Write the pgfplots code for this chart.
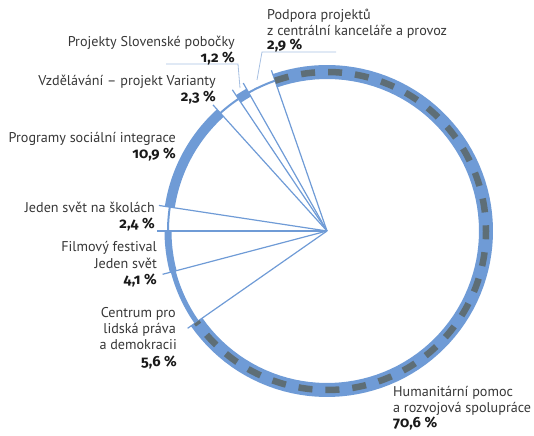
\documentclass[border=0pt]{standalone}
\usepackage{pgfplots}
\pgfplotsset{compat=1.18}
\usepackage{pgfplotstable}
\usepackage{fontspec}
\setmainfont{PT Sans}
\newfontfamily\pctfont[Numbers=OldStyle]{Fira Sans}
\definecolor{ringcol}{RGB}{111,155,214}
\definecolor{dashcol}{RGB}{94,110,118}
\definecolor{leadcol}{RGB}{167,192,226}
\definecolor{txtcol}{RGB}{55,55,55}
\definecolor{pctcol}{RGB}{25,25,25}

% share (%) and ring width (bp), clockwise from the top
\pgfplotstableread{
share width
70.6 14
5.6 5
4.1 7
2.4 2
10.9 10
2.3 2
1.2 9
2.9 2
}\pietable

\def\startangle{109.08}
\def\rring{159}
\def\rline{170}

\begin{document}
\begin{tikzpicture}[lab/.style={font=\fontsize{14.2}{16}\selectfont, text=txtcol, inner sep=0pt},
  pct/.style={font=\fontsize{14.8}{16}\selectfont\pctfont\bfseries, text=pctcol, inner sep=0pt}]
\begin{axis}[x=1bp, y=1bp, xmin=-327, xmax=207, ymin=-205, ymax=231,
  hide axis, clip=false]
\path (rel axis cs:0,0) rectangle (rel axis cs:1,1);
% radial lines
\pgfmathsetmacro\acur{\startangle}
\pgfplotsforeachungrouped \i in {0,...,7}{%
  \pgfplotstablegetelem{\i}{share}\of\pietable
  \let\s=\pgfplotsretval
  \pgfmathsetmacro\anext{\acur-3.6*\s}
  \pgfmathsetmacro\lx{\rline*cos(\acur)}
  \pgfmathsetmacro\ly{\rline*sin(\acur)}
  \edef\cmd{\noexpand\addplot[ringcol, line width=1.2bp, forget plot] coordinates {(0,0) (\lx,\ly)};}%
  \cmd
  \let\acur\anext
}
% ring arcs
\pgfmathsetmacro\acur{\startangle}
\pgfplotsforeachungrouped \i in {0,...,7}{%
  \pgfplotstablegetelem{\i}{share}\of\pietable
  \let\s=\pgfplotsretval
  \pgfplotstablegetelem{\i}{width}\of\pietable
  \let\w=\pgfplotsretval
  \pgfmathsetmacro\delta{3.6*\s}
  \pgfmathsetmacro\anext{\acur-\delta}
  \edef\cmd{\noexpand\addplot[ringcol, line width=\w bp, forget plot, domain=0:\delta, samples=90, variable=\noexpand\t, line cap=butt] ({\rring*cos(\acur-\noexpand\t)},{\rring*sin(\acur-\noexpand\t)});}%
  \cmd
  \let\acur\anext
}
% dashes on the largest share
\pgfplotstablegetelem{0}{share}\of\pietable
\pgfmathsetmacro\hdelta{3.6*\pgfplotsretval}
\edef\cmd{\noexpand\addplot[dashcol, line width=6.5bp, forget plot, domain=0:\hdelta, samples=150, variable=\noexpand\t, dash pattern=on 14bp off 13bp, line cap=butt] ({\rring*cos(\startangle-\noexpand\t)},{\rring*sin(\startangle-\noexpand\t)});}%
\cmd
% leader lines
\addplot[leadcol, line width=0.8bp, forget plot] coordinates {(-161,167) (-89,167) (-87,143)};
\addplot[leadcol, line width=0.8bp, forget plot] coordinates {(-70,151) (-65,179) (9,179)};
% labels
\node[lab, anchor=base east] at (axis cs:-92,184) {Projekty Slovenské pobočky};
\node[pct, anchor=base east] at (axis cs:-92,168) {1,2 \%};
\node[lab, anchor=base east] at (axis cs:-111,145) {Vzdělávání – projekt Varianty};
\node[pct, anchor=base east] at (axis cs:-111,129) {2,3 \%};
\node[lab, anchor=base east] at (axis cs:-151,88) {Programy sociální integrace};
\node[pct, anchor=base east] at (axis cs:-151,72) {10,9 \%};
\node[lab, anchor=base east] at (axis cs:-172,18) {Jeden svět na školách};
\node[pct, anchor=base east] at (axis cs:-172,2) {2,4 \%};
\node[lab, anchor=base east] at (axis cs:-170,-21) {Filmový festival};
\node[lab, anchor=base east] at (axis cs:-170,-38) {Jeden svět};
\node[pct, anchor=base east] at (axis cs:-170,-54) {4,1 \%};
\node[lab, anchor=base east] at (axis cs:-151,-87) {Centrum pro};
\node[lab, anchor=base east] at (axis cs:-151,-103) {lidská práva};
\node[lab, anchor=base east] at (axis cs:-150,-119) {a demokracii};
\node[pct, anchor=base east] at (axis cs:-150,-136) {5,6 \%};
\node[lab, anchor=base west] at (axis cs:-60,211) {Podpora projektů};
\node[lab, anchor=base west] at (axis cs:-60,195) {z centrální kanceláře a provoz};
\node[pct, anchor=base west] at (axis cs:-60,181) {2,9 \%};
\node[lab, anchor=base west] at (axis cs:66,-166) {Humanitární pomoc};
\node[lab, anchor=base west] at (axis cs:66,-182) {a rozvojová spolupráce};
\node[pct, anchor=base west] at (axis cs:66,-197) {70,6 \%};
\end{axis}
\end{tikzpicture}
\end{document}
